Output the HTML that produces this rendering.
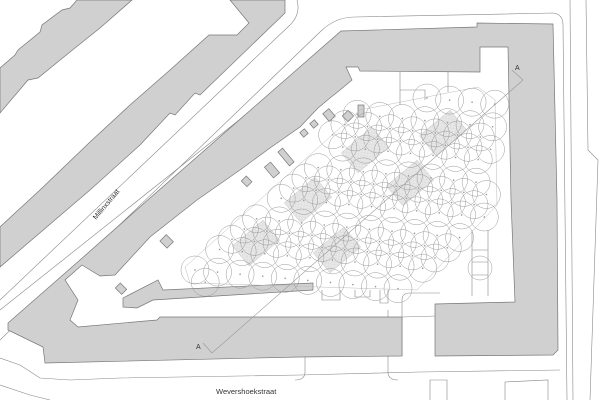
<!DOCTYPE html>
<html><head><meta charset="utf-8"><style>
html,body{margin:0;padding:0;background:#fff;}
svg{display:block;}
text{font-family:"Liberation Sans",sans-serif;fill:#333;}
</style></head><body>
<svg id="s" width="600" height="400" viewBox="0 0 600 400" xmlns="http://www.w3.org/2000/svg">
<defs>
<pattern id="h" width="3" height="3" patternUnits="userSpaceOnUse" patternTransform="rotate(-40)">
<rect width="3" height="3" fill="#e8e8e8"/><path d="M0 0H3M0 0V3" stroke="#d0d0d0" stroke-width="0.5"/>
</pattern>
</defs>
<g fill="none" stroke="#888" stroke-width="0.6">
<path d="M297,0 Q301,14 290,25 L0,300"/>
<path d="M268,97 L0,310"/>
<path d="M0,340 L320,32 Q335,17 355,17 L553,13 Q563,14 563,25 L567,400"/>
<path d="M570,0 L573,400"/>
<path d="M586,0 L588,150 L598,160 L590,400"/>
<path d="M0,358 L20,365 L40,378 L70,380 L120,378 L300,375 L420,372 L560,370"/>
<path d="M0,385 L30,395 L50,400"/>
<path d="M305,355 L305,372 Q305,380 295,380"/>
<path d="M402,356 L402,300 Q402,293 410,293 L440,293"/>
<path d="M388,310 L388,372 Q388,380 398,380"/>
<path d="M430,400 L430,380 L447,380 L447,400 M505,400 L505,382 L548,380 L548,400"/>
<path d="M400,72 L400,105 M400,90 L425,90 L425,100 M448,72 L448,92"/>
<path d="M322,290 L322,300 L340,300 L340,290 M355,290 L355,297 L370,297 L370,290 M380,290 L380,303 L388,303 L388,290"/>
<path d="M472,230 L472,296 M488,230 L488,296 M472,250 L488,250 M472,262 L488,262 M472,275 L488,275"/>
<path d="M402,317 L470,315"/>
</g>
<g fill="#d0d0d0" stroke="#777" stroke-width="0.7">
<polygon points="0,68 15,55 18,50 40,32 42,25 62,10 70,8 77,0 132,0 100,28 70,52 38,78 28,80 0,113"/>
<polygon points="230,0 285,0 285,13 200,95 195,93 175,115 170,113 140,145 90,190 0,267 0,227 15,213 40,190 90,142 130,105 170,70 209,35 237,35 249,23"/>
<polygon points="341,31 477,27 477,23 553,24 557,200 558,350 553,355 435,356 435,304 515,302 511,200 508,47 480,47 480,72 360,71 358,67 346,67 352,80 340,90 330,98 318,108 300,127 270,148 240,170 197,200 150,237 115,275 100,276 82,265 65,280 78,300 70,320 78,327 157,320 160,317 300,317 402,317 402,356 300,357 45,363 43,347 8,330 8,323 80,260 150,198"/>
<polygon points="123,298 158,280 163,290 313,283 313,290 153,300 137,308 123,307"/>
<rect x="358" y="105" width="6" height="12"/>
<rect x="344" y="112" width="8" height="8" transform="rotate(45 348 116)"/>
<rect x="325" y="110" width="8" height="10" transform="rotate(-40 329 115)"/>
<rect x="311" y="121" width="6" height="6" transform="rotate(-40 314 124)"/>
<rect x="301" y="130" width="6" height="6" transform="rotate(-40 304 133)"/>
<rect x="268" y="163" width="8" height="14" transform="rotate(-40 272 170)"/>
<rect x="283" y="148" width="6" height="18" transform="rotate(-40 286 157)"/>
<rect x="243" y="178" width="8" height="7" transform="rotate(45 247 181)"/>
<rect x="162" y="237" width="10" height="9" transform="rotate(45 167 241)"/>
<rect x="117" y="285" width="9" height="7" transform="rotate(45 121 288)"/>
</g>
<g fill="url(#h)" stroke="#bbb" stroke-width="0.4">
<rect x="-20" y="-13" width="40" height="26" transform="translate(365,150) rotate(-40)"/>
<rect x="-20" y="-13" width="40" height="26" transform="translate(443,133) rotate(-40)"/>
<rect x="-20" y="-13" width="40" height="26" transform="translate(308,200) rotate(-40)"/>
<rect x="-20" y="-13" width="40" height="26" transform="translate(410,183) rotate(-40)"/>
<rect x="-20" y="-13" width="40" height="26" transform="translate(256,243) rotate(-40)"/>
<rect x="-20" y="-13" width="40" height="26" transform="translate(337,250) rotate(-40)"/>
</g>
<polygon points="185,267 360,110 478,87 495,100 497,205 417,290 190,283" fill="none" stroke="#bbb" stroke-width="0.5"/>
<g id="trees" fill="none" stroke="#999" stroke-width="0.5"></g>
<circle cx="480" cy="268" r="12" fill="none" stroke="#999" stroke-width="0.5"/>
<g fill="none" stroke="#999" stroke-width="0.6">
<path d="M523,80 L212,353 M523,80 L512,70 M212,353 L203,343"/>
</g>
<text x="0" y="0" font-size="7" transform="translate(96,220) rotate(-50)">Millinxstraat</text>
<text x="216" y="394" font-size="7.5">Wevershoekstraat</text>
<text x="515" y="70" font-size="7" font-family="Liberation Serif">A</text>
<text x="196" y="349" font-size="7" font-family="Liberation Serif">A</text>
</svg>
<script>
(function(){
var poly=[[185,267],[360,110],[478,87],[495,100],[497,205],[417,290],[190,283]];
function inside(x,y){var c=false;for(var i=0,j=poly.length-1;i<poly.length;j=i++){var a=poly[i],b=poly[j];if(((a[1]>y)!=(b[1]>y))&&(x<(b[0]-a[0])*(y-a[1])/(b[1]-a[1])+a[0]))c=!c;}return c;}
var g=document.getElementById('trees'),ns='http://www.w3.org/2000/svg';
var ux=0.77,uy=-0.64,vx=0.64,vy=0.77;
for(var i=-3;i<24;i++)for(var j=-3;j<14;j++){
var x=195+i*16*ux+j*16*vx,y=270+i*16*uy+j*16*vy;
if(!inside(x,y))continue;
if(((i*7+j*3)%5)==2)continue;
var c=document.createElementNS(ns,'circle');c.setAttribute('cx',x.toFixed(1));c.setAttribute('cy',y.toFixed(1));c.setAttribute('r',14);g.appendChild(c);
var d=document.createElementNS(ns,'circle');d.setAttribute('cx',x.toFixed(1));d.setAttribute('cy',y.toFixed(1));d.setAttribute('r',0.6);d.setAttribute('fill','#999');g.appendChild(d);
}})();
</script>
</body></html>
